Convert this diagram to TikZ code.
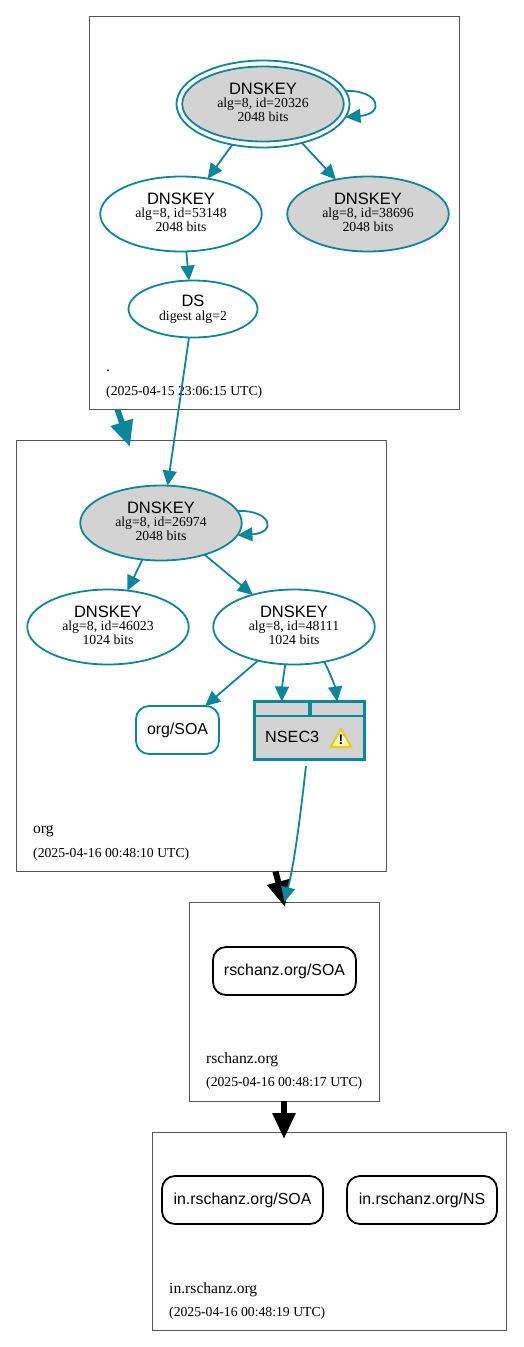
\documentclass[tikz,border=0pt]{standalone}
\usepackage{fontspec}
\setmainfont{Liberation Serif}
\newfontfamily\hv{Liberation Sans}
\usetikzlibrary{shapes.geometric,arrows.meta}
\definecolor{teal1}{HTML}{0A879A}
\definecolor{grayfill}{HTML}{D3D3D3}
\definecolor{clus}{HTML}{555555}
\definecolor{warnedge}{HTML}{EBC92B}
\definecolor{warnfill}{HTML}{FFF9C4}
\newcommand{\kt}[3]{{\hv\fontsize{16.5}{14.5}\selectfont #1}\\{\fontsize{13.8}{14}\selectfont #2}\\{\fontsize{13.8}{13.5}\selectfont #3\rule[-4.5pt]{0pt}{0pt}}}
\tikzset{
 x=1pt,y=-1pt,
 cluster/.style={draw=clus,line width=0.8pt,fill=none,inner sep=0,outer sep=0,anchor=north west},
 key/.style={ellipse,draw=teal1,line width=1.8pt,inner sep=0,outer sep=0,minimum width=161.5pt,minimum height=75pt,align=center,font=\fontsize{13.8}{13.5}\selectfont},
 sep/.style={key,fill=grayfill},
 rr/.style={rectangle,rounded corners=13pt,draw=#1,line width=1.8pt,inner sep=0,outer sep=0,minimum height=48pt,font=\hv\fontsize{15.9}{16}\selectfont},
 lbl/.style={anchor=base west,inner sep=0,font=\fontsize{15.6}{16}\selectfont},
 dlbl/.style={anchor=base west,inner sep=0,font=\fontsize{13.7}{14}\selectfont},
 edge/.style={draw=teal1,line width=1.8pt,-{Triangle[length=15pt,width=14pt]}},
 thick teal/.style={draw=teal1,line width=6pt,-{Triangle[length=26pt,width=22pt]}},
 thick black/.style={draw=black,line width=6pt,-{Triangle[length=26pt,width=22pt]}},
 cell/.style={rectangle,draw=teal1,line width=2pt,fill=grayfill,inner sep=0,outer sep=0},
}
\begin{document}
\begin{tikzpicture}
\useasboundingbox (0,0) rectangle (523,1347);
% clusters
\node[cluster,minimum width=370pt,minimum height=393pt] (c1) at (89.5,16) {};
\node[cluster,minimum width=370pt,minimum height=430.5pt] (c2) at (16,440.5) {};
\node[cluster,minimum width=190pt,minimum height=199pt] (c3) at (189.5,902) {};
\node[cluster,minimum width=354pt,minimum height=198pt] (c4) at (152,1132) {};
\node[lbl] (l1a) at (106,371) {.};
\node[dlbl] (l1b) at (106,395.5) {(2025-04-15 23:06:15 UTC)};
\node[lbl] (l2a) at (33,833) {org};
\node[dlbl] (l2b) at (33,857) {(2025-04-16 00:48:10 UTC)};
\node[lbl] (l3a) at (206,1063.5) {rschanz.org};
\node[dlbl] (l3b) at (206,1086.5) {(2025-04-16 00:48:17 UTC)};
\node[lbl] (l4a) at (169,1293.5) {in.rschanz.org};
\node[dlbl] (l4b) at (169,1316.5) {(2025-04-16 00:48:19 UTC)};
% keys
\node[ellipse,draw=teal1,line width=1.8pt,inner sep=0,outer sep=0,minimum width=173pt,minimum height=87pt] (ksk0) at (263,104) {};
\node[sep] (k20326) at (263,104) {\kt{DNSKEY}{alg=8, id=20326}{2048 bits}};
\node[key] (k53148) at (181,214) {\kt{DNSKEY}{alg=8, id=53148}{2048 bits}};
\node[sep] (k38696) at (368,214) {\kt{DNSKEY}{alg=8, id=38696}{2048 bits}};
\node[key,minimum width=129pt,minimum height=57pt] (ds) at (193,309) {{\hv\fontsize{16.5}{13.5}\selectfont DS}\\{\fontsize{13.8}{13.5}\selectfont digest alg=2}};
\node[sep] (k26974) at (161,523) {\kt{DNSKEY}{alg=8, id=26974}{2048 bits}};
\node[key] (k46023) at (108,627) {\kt{DNSKEY}{alg=8, id=46023}{1024 bits}};
\node[key] (k48111) at (294,627) {\kt{DNSKEY}{alg=8, id=48111}{1024 bits}};
% rrsets
\node[rr=teal1,minimum width=83pt] (orgsoa) at (177.5,730) {org/SOA};
\node[rr=black,minimum width=143pt] (rsoa) at (284.5,971) {rschanz.org/SOA};
\node[rr=black,minimum width=161pt] (isoa) at (242.5,1200) {in.rschanz.org/SOA};
\node[rr=black,minimum width=150pt] (ins) at (422,1200) {in.rschanz.org/NS};
% NSEC3
\node[cell,line width=2.8pt,minimum width=109.5pt,minimum height=58pt] (nsec) at (309.5,730.5) {};
\node[cell,minimum width=53.5pt,minimum height=14.5pt,anchor=north west] (p1) at (255,701.5) {};
\node[cell,minimum width=53.5pt,minimum height=14.5pt,anchor=north west] (p2) at (310.5,701.5) {};
\node[anchor=west,inner sep=0,font=\hv\fontsize{16.2}{16}\selectfont] (nt) at (265,737) {NSEC3};
% warning icon
\coordinate (w1) at (341,729);
\coordinate (w2) at (330.5,747);
\coordinate (w3) at (351.5,747);
\draw[shading=radial,inner color=white,outer color=warnfill!60!yellow,draw=warnedge,line width=2.2pt,line join=round] (w1) -- (w2) -- (w3) -- cycle;
\node[inner sep=0,font=\hv\bfseries\fontsize{14}{14}\selectfont] (wm) at (341,739.5) {!};
% edges
\draw[edge] (ksk0.-127.8) -- (k53148.53);
\draw[edge] (ksk0.-45.8) -- (k38696.133);
\draw[edge] (ksk0.9.7) .. controls (380,90) and (385,114) .. (ksk0.-9);
\draw[edge] (k53148.-82.3) -- (ds.98.4);
\draw[edge] (ds.-98) -- (k26974.80.8);
\draw[edge] (k26974.9) .. controls (272,510) and (277,533) .. (k26974.-9.7);
\draw[edge] (k26974.-117.8) -- (k46023.62.8);
\draw[edge] (k26974.-36.4) -- (k48111.142);
\draw[edge] (k48111.-137) -- (orgsoa.41);
\draw[edge] (k48111.-103.3) .. controls (283.5,675) and (282,688) .. (p1.north);
\draw[edge] (k48111.-49) .. controls (330,673) and (335,686) .. (p2.north);
\coordinate (a1) at (117.5,409.5);
\coordinate (a1t) at (130,447);
\draw[thick teal] (a1) -- (a1t);
\coordinate (a2) at (275.5,871.5);
\coordinate (a2t) at (285,907);
\draw[thick black] (a2) -- (a2t);
\coordinate (nsout) at (306,766);
\draw[edge] (nsout) .. controls (301,810) and (295,860) .. (rsoa.north |- c3.north);
\coordinate (a3) at (284,1101);
\coordinate (a3t) at (284,1139);
\draw[thick black] (a3) -- (a3t);
\end{tikzpicture}
\end{document}
